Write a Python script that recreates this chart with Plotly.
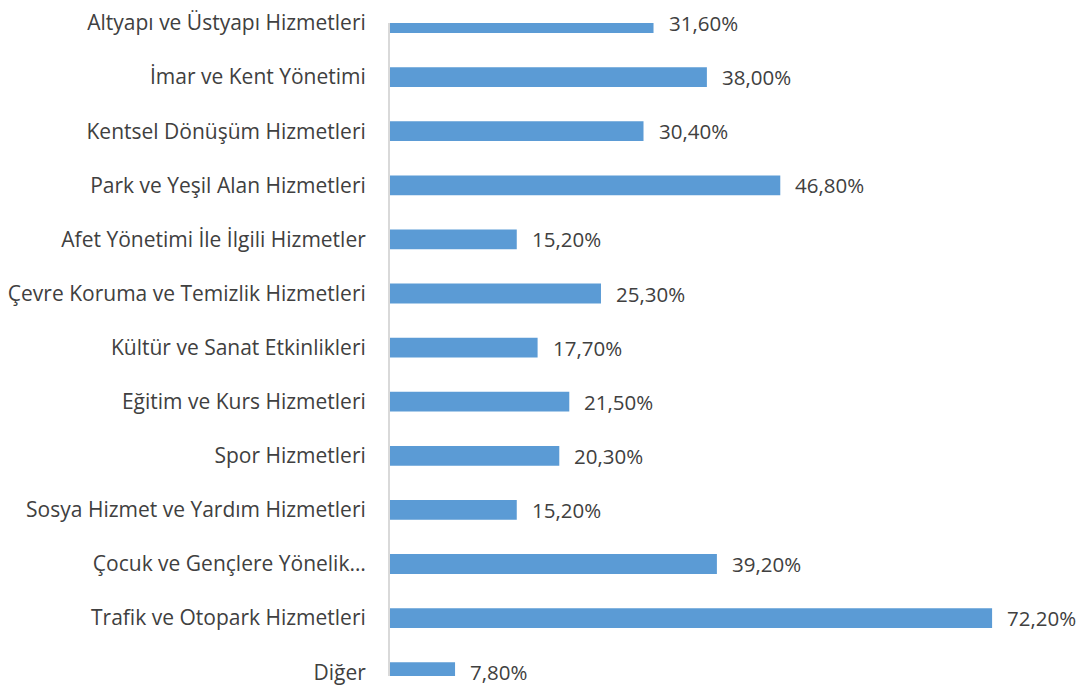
import plotly.graph_objects as go

categories = [
    "Altyapı ve Üstyapı Hizmetleri",
    "İmar ve Kent Yönetimi",
    "Kentsel Dönüşüm Hizmetleri",
    "Park ve Yeşil Alan Hizmetleri",
    "Afet Yönetimi İle İlgili Hizmetler",
    "Çevre Koruma ve Temizlik Hizmetleri",
    "Kültür ve Sanat Etkinlikleri",
    "Eğitim ve Kurs Hizmetleri",
    "Spor Hizmetleri",
    "Sosya Hizmet ve Yardım Hizmetleri",
    "Çocuk ve Gençlere Yönelik…",
    "Trafik ve Otopark Hizmetleri",
    "Diğer",
]
values = [31.6, 38.0, 30.4, 46.8, 15.2, 25.3, 17.7, 21.5, 20.3, 15.2, 39.2, 72.2, 7.8]
labels = [f"{v:.2f}".replace(".", ",") + "%" for v in values]

FONT = "Open Sans, Noto Sans, sans-serif"
TXT = "#404040"

fig = go.Figure(
    go.Bar(
        x=values,
        y=categories,
        orientation="h",
        marker=dict(color="#5b9bd5", line=dict(width=0)),
        width=0.366,
        hoverinfo="skip",
    )
)

for c, v, t in zip(categories, values, labels):
    fig.add_annotation(
        x=v, y=c, text=t, showarrow=False, xanchor="left", yanchor="middle",
        xshift=13, yshift=0, font=dict(family=FONT, size=20.5, color=TXT),
    )

fig.update_layout(
    width=1085,
    height=689,
    margin=dict(l=381, r=0, t=9, b=21),
    plot_bgcolor="white",
    paper_bgcolor="white",
    showlegend=False,
    font=dict(family=FONT, size=21, color=TXT),
)
fig.update_xaxes(range=[0, 84.3], visible=False, showgrid=False, zeroline=False)
fig.update_yaxes(
    type="category",
    categoryorder="array",
    categoryarray=categories,
    range=[12.07, 0],
    showline=True,
    linecolor="#d9d9d9",
    linewidth=2,
    showgrid=False,
    ticks="outside",
    ticklen=18,
    tickcolor="rgba(0,0,0,0)",
    tickfont=dict(family=FONT, size=21, color=TXT),
)

fig.write_html("out.html")
